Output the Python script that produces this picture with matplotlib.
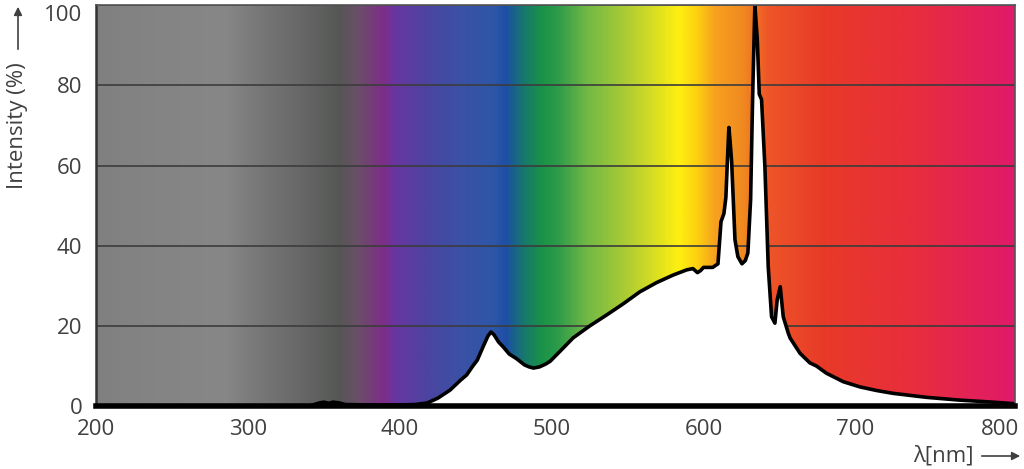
import numpy as np
import matplotlib
matplotlib.use("Agg")
import matplotlib.pyplot as plt
from matplotlib.colors import LinearSegmentedColormap, to_rgb

plt.rcParams['font.family'] = ['Open Sans', 'DejaVu Sans']

# ---- data ----
wavelength = [200, 340, 347, 350, 353, 356, 360, 364, 380, 400, 410, 418, 425, 433, 440,
              444, 448, 451, 455, 458, 460, 462, 465, 468, 472, 477, 482, 485, 488,
              492, 496, 499, 505, 514, 525, 536, 547, 558, 569, 580, 589, 593, 596,
              598, 600, 606, 609.5, 611.5, 613.4, 614.7, 615.8, 616.7, 617.5, 618.5,
              620.7, 622.6, 625.3, 627.5, 629.2, 631, 632.3, 633.8, 635.4, 636.7,
              638.2, 640.4, 642.6, 644.8, 647, 648.5, 650.5, 652.5, 655.8, 657,
              663.5, 670, 674.4, 681, 692, 703, 714, 724.7, 746.8, 768.8, 790.5, 805]
intensity = [0, 0, 0.8, 1.0, 0.7, 1.0, 0.8, 0.4, 0.3, 0.3, 0.4, 0.8, 2.0, 4.0, 6.5,
             7.8, 10.0, 11.5, 15.0, 17.5, 18.5, 17.8, 16.0, 14.8, 13.0, 11.8, 10.3, 9.8, 9.5,
             9.8, 10.5, 11.2, 13.5, 17.0, 20.0, 22.7, 25.5, 28.5, 30.8, 32.7, 34.0, 34.3, 33.3,
             33.8, 34.6, 34.6, 35.5, 46.0, 48.0, 52.0, 62.0, 69.5, 66.0, 61.0,
             41.5, 37.3, 35.5, 36.3, 38.2, 51.5, 76.5, 100.0, 91.5, 77.8,
             76.5, 59.8, 34.8, 22.3, 20.7, 26.5, 29.8, 22.3, 18.2, 17.0,
             13.2, 10.8, 10.0, 8.2, 6.1, 4.8, 3.9, 3.2, 2.2, 1.5, 1.0, 0.6]

x_ticks = [200, 300, 400, 500, 600, 700, 800]
y_ticks = [0, 20, 40, 60, 80, 100]

# background spectrum colour stops (nm, colour)
bg_nm = [200, 240, 285, 300, 330, 360, 372, 389, 396, 419, 441, 462, 470, 481, 494,
         503, 523, 554, 584, 596, 608, 626, 643, 679, 744, 805]
bg_col = ['#808080', '#848484', '#868786', '#7c7c7c', '#6a6a6a', '#555755', '#6a4f68',
          '#7e2d88', '#6a35a0', '#4a45a0', '#3a52a5', '#2e56a8', '#1d4fa6', '#17776f',
          '#1a9347', '#2a9a4a', '#70b845', '#b8d030', '#fff010', '#fbd010', '#f8a020',
          '#f08a20', '#ee5528', '#e83a28', '#e82c40', '#e01a6a']

XMIN, XMAX = 200, 805
YMIN, YMAX = 0, 100

fig = plt.figure(figsize=(10.24, 4.69), dpi=100)
ax = fig.add_axes([0.094, 0.134, 0.897, 0.855])

pos = [(n - XMIN) / (XMAX - XMIN) for n in bg_nm]
cmap = LinearSegmentedColormap.from_list('spec', list(zip(pos, [to_rgb(c) for c in bg_col])), N=1024)
grad = np.linspace(0, 1, 1200).reshape(1, -1)
ax.imshow(grad, cmap=cmap, aspect='auto', extent=[XMIN, XMAX, YMIN, YMAX],
          interpolation='bilinear', zorder=0)

for yv in y_ticks[1:]:
    ax.axhline(yv, color='#3c3c3c', lw=1.2, zorder=1)

ax.fill_between(wavelength, 0, intensity, color='white', zorder=2, lw=0)
ax.plot(wavelength, intensity, color='black', lw=2.6, zorder=3,
        solid_joinstyle='round')

ax.set_xlim(XMIN, XMAX)
ax.set_ylim(YMIN, YMAX)
ax.set_xticks(x_ticks)
ax.set_yticks(y_ticks)
ax.tick_params(length=0, labelsize=16, labelcolor='#404040')
ax.tick_params(axis='x', pad=9)
ax.tick_params(axis='y', pad=10)

# keep the top label inside the figure, as in the reference
ylabels = ax.get_yticklabels()
ylabels[-1].set_va('top')
xlabels = ax.get_xticklabels()
xlabels[-1].set_ha('right')
xlabels[-1].set_x(x_ticks[-1])
import matplotlib.transforms as mtrans
xlabels[-1].set_transform(xlabels[-1].get_transform() +
                          mtrans.ScaledTranslation(12 / 100, 0, fig.dpi_scale_trans))

for s in ['top', 'right']:
    ax.spines[s].set_color('#555555')
    ax.spines[s].set_linewidth(1.2)
ax.spines['left'].set_color('#333333')
ax.spines['left'].set_linewidth(1.8)
ax.spines['bottom'].set_color('black')
ax.spines['bottom'].set_linewidth(4)
for s in ax.spines.values():
    s.set_zorder(5)

# y label with arrow
fig.text(18 / 1024, 1 - 126 / 469, 'Intensity (%)', rotation=90, ha='center', va='center',
         fontsize=16, color='#404040')
fig.add_artist(matplotlib.patches.FancyArrowPatch(
    (18 / 1024, 1 - 52 / 469), (18 / 1024, 1 - 4 / 469), transform=fig.transFigure,
    arrowstyle='-|>', mutation_scale=12, color='#404040', lw=1.2))

# x label with arrow
fig.text(943 / 1024, 1 - 456 / 469, 'λ[nm]', ha='center', va='center',
         fontsize=16, color='#404040')
fig.add_artist(matplotlib.patches.FancyArrowPatch(
    (979 / 1024, 1 - 456 / 469), (1023 / 1024, 1 - 456 / 469), transform=fig.transFigure,
    arrowstyle='-|>', mutation_scale=12, color='#404040', lw=1.2))

fig.savefig('out.png', dpi=100)
